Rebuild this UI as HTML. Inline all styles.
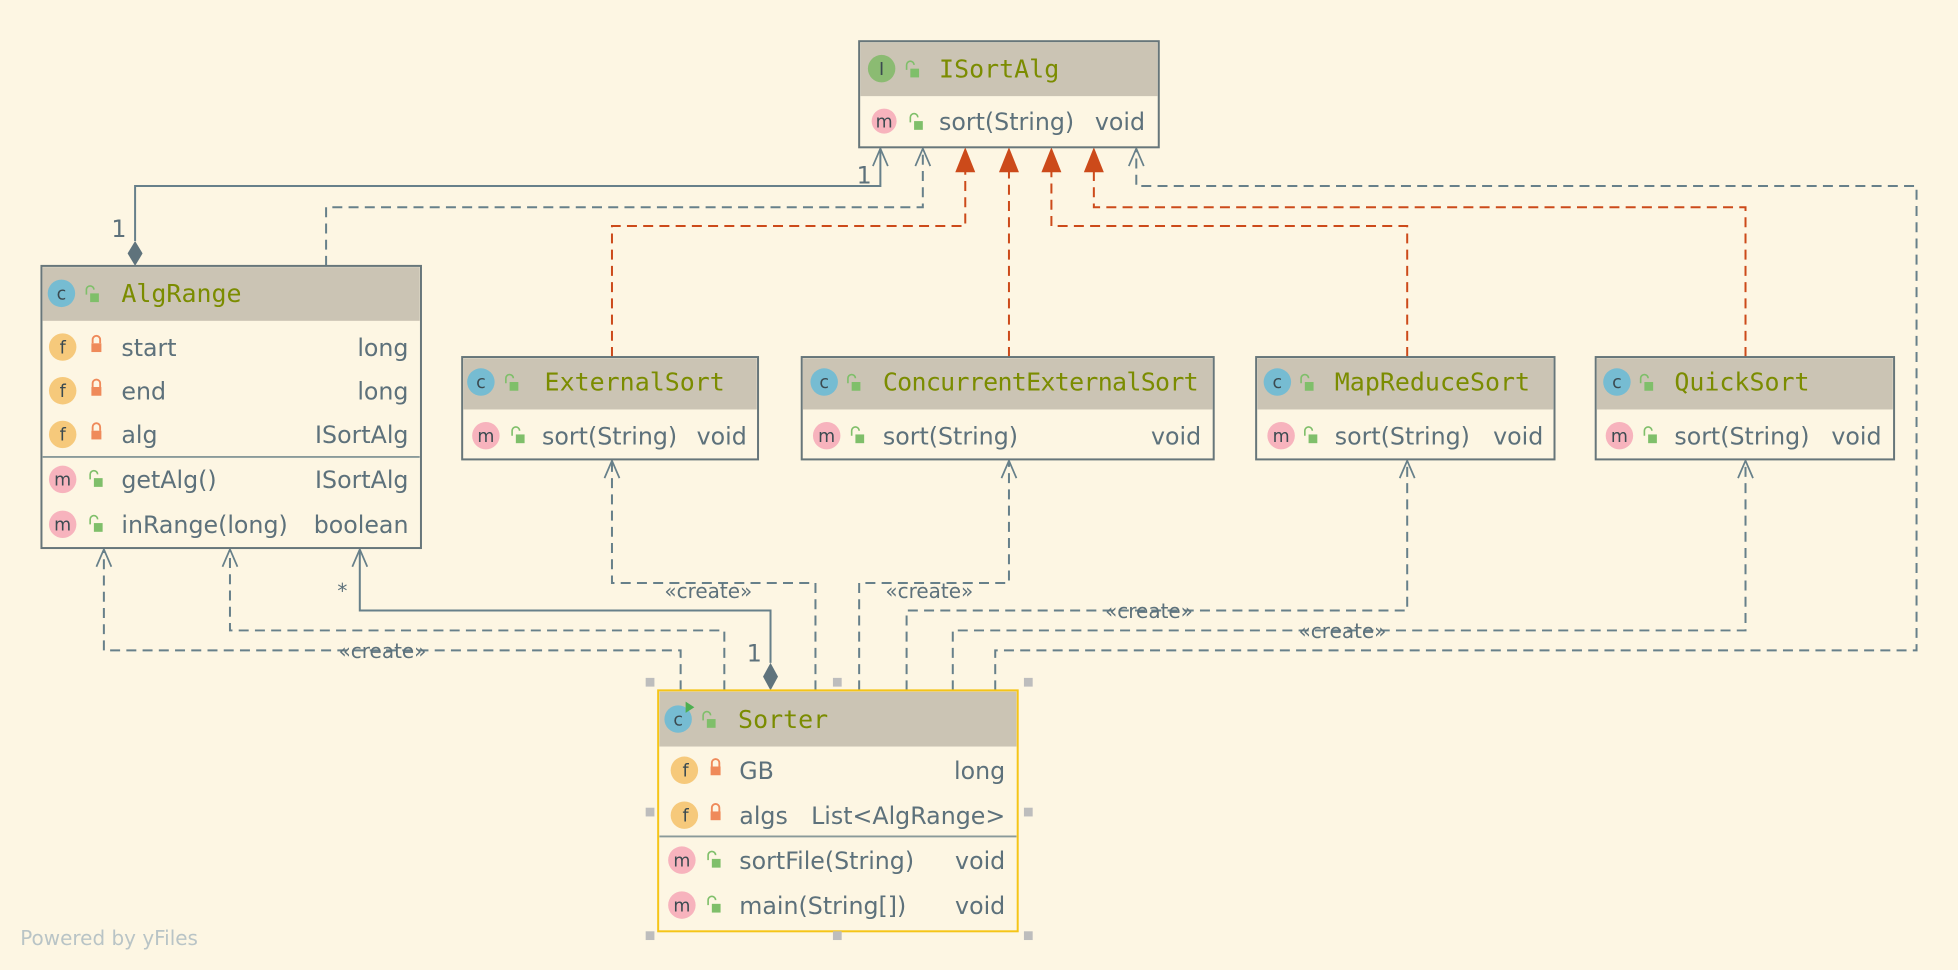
<!DOCTYPE html>
<html><head><meta charset="utf-8"><style>
html,body{margin:0;padding:0;background:#fdf6e3;}
svg{display:block}
.t{font-family:"DejaVu Sans","Liberation Sans",sans-serif;font-size:19px;fill:#5d717b}
.h{font-family:"DejaVu Sans Mono","Liberation Mono",monospace;font-size:20px;fill:#7b8c00}
.i{font-family:"DejaVu Sans","Liberation Sans",sans-serif;font-size:14px;fill:#3b4a50;text-anchor:middle}
.lbl{font-family:"DejaVu Sans","Liberation Sans",sans-serif;font-size:16px;fill:#5d717b}
.num{font-family:"DejaVu Sans","Liberation Sans",sans-serif;font-size:19px;fill:#5d717b}
.box{fill:#fdf6e3;stroke:#67767a;stroke-width:1.6}
.hd{fill:#cbc4b4}
.g{fill:none;stroke:#67808a;stroke-width:1.6;stroke-dasharray:8 5}
.gs{fill:none;stroke:#67808a;stroke-width:1.6}
.o{fill:none;stroke:#cc4a1a;stroke-width:1.6;stroke-dasharray:8 5}
.arr{fill:none;stroke:#67808a;stroke-width:1.4}
.tri{fill:#cc4a1a}
.hdl{fill:#bdbdbd}
</style></head><body>
<svg width="1958" height="970" viewBox="0 0 1568 777" xmlns="http://www.w3.org/2000/svg">
<rect width="1568" height="777" fill="#fdf6e3"/>
<defs>
<g id="lk"><path d="M-4,-1 v-4 a3,3 0 0 1 6,0" fill="none" stroke="#7fbf6a" stroke-width="1.3"/><rect x="-1" y="-2" width="7" height="7" fill="#7fbf6a"/></g>
<g id="lkr"><path d="M-3,-2 v-3 a3,3 0 0 1 6,0 v3" fill="none" stroke="#ef8a5a" stroke-width="1.5"/><rect x="-4" y="-2" width="8" height="7" fill="#ef8a5a"/></g>
<g id="ar"><path d="M-6,14 L0,0 L6,14" class="arr"/></g>
<g id="tr"><path d="M-8,20 L0,0 L8,20 Z" class="tri"/></g>
</defs>

<path class="gs" d="M108,193 V149 H705 V119"/>
<path d="M108,193 L114,203 L108,213 L102,203 Z" fill="#5f737c"/>
<use href="#ar" x="705" y="119"/>
<text class="num" x="89" y="190">1</text>
<text class="num" x="686" y="147">1</text>
<path class="g" d="M261,213 V166 H739 V121"/>
<use href="#ar" x="739" y="119"/>
<path class="o" d="M490,286 V181 H773 V136"/>
<path class="o" d="M808,286 V136"/>
<path class="o" d="M1127,286 V181 H842 V136"/>
<path class="o" d="M1398,286 V166 H876 V136"/>
<use href="#tr" x="773" y="118"/><use href="#tr" x="808" y="118"/>
<use href="#tr" x="842" y="118"/><use href="#tr" x="876" y="118"/>
<path class="g" d="M797,553 V521 H1535 V149 H910 V121"/>
<use href="#ar" x="910" y="119"/>
<path class="g" d="M653,553 V467 H490 V370"/><use href="#ar" x="490" y="369"/>
<path class="g" d="M688,553 V467 H808 V370"/><use href="#ar" x="808" y="369"/>
<path class="g" d="M726,553 V489 H1127 V370"/><use href="#ar" x="1127" y="369"/>
<path class="g" d="M763,553 V505 H1398 V370"/><use href="#ar" x="1398" y="369"/>
<path class="g" d="M545,553 V521 H83 V441"/><use href="#ar" x="83" y="440"/>
<path class="g" d="M580,553 V505 H184 V441"/><use href="#ar" x="184" y="440"/>
<path class="gs" d="M617,531 V489 H288 V441"/><use href="#ar" x="288" y="440"/>
<path d="M617,531 L623,542 L617,553 L611,542 Z" fill="#5f737c"/>
<text class="lbl" x="270" y="479">*</text>
<text class="num" x="598" y="530">1</text>
<g class="lbl">
<text x="532" y="479">«create»</text>
<text x="709" y="479">«create»</text>
<text x="885" y="495">«create»</text>
<text x="1040" y="511">«create»</text>
<text x="271" y="527">«create»</text>
</g>

<!-- ISortAlg -->
<rect class="box" x="688" y="33" width="240" height="85"/>
<rect class="hd" x="689" y="34" width="238" height="43"/>
<circle cx="706" cy="55" r="11" fill="#8bbb72"/><text class="i" x="706" y="60">I</text>
<use href="#lk" x="730" y="57"/>
<text class="h" x="752" y="62">ISortAlg</text>
<circle cx="708" cy="97" r="10" fill="#f7b3bd"/><text class="i" x="708" y="102">m</text>
<use href="#lk" x="733" y="99"/>
<text class="t" x="752" y="104">sort(String)</text><text class="t" x="917" y="104" text-anchor="end">void</text>

<!-- AlgRange -->
<rect class="box" x="33" y="213" width="304" height="226"/>
<rect class="hd" x="34" y="214" width="302" height="43"/>
<circle cx="49" cy="235" r="11" fill="#76bcd2"/><text class="i" x="49" y="240">c</text>
<use href="#lk" x="73" y="237"/>
<text class="h" x="97" y="242">AlgRange</text>
<circle cx="50" cy="278" r="11" fill="#f6c97b"/><text class="i" x="50" y="283">f</text><use href="#lkr" x="77" y="277"/>
<text class="t" x="97" y="285">start</text><text class="t" x="327" y="285" text-anchor="end">long</text>
<circle cx="50" cy="313" r="11" fill="#f6c97b"/><text class="i" x="50" y="318">f</text><use href="#lkr" x="77" y="312"/>
<text class="t" x="97" y="320">end</text><text class="t" x="327" y="320" text-anchor="end">long</text>
<circle cx="50" cy="348" r="11" fill="#f6c97b"/><text class="i" x="50" y="353">f</text><use href="#lkr" x="77" y="347"/>
<text class="t" x="97" y="355">alg</text><text class="t" x="327" y="355" text-anchor="end">ISortAlg</text>
<line x1="34" y1="366" x2="336" y2="366" stroke="#8a9a9a" stroke-width="1.5"/>
<circle cx="50" cy="384" r="11" fill="#f7b3bd"/><text class="i" x="50" y="389">m</text><use href="#lk" x="76" y="385"/>
<text class="t" x="97" y="391">getAlg()</text><text class="t" x="327" y="391" text-anchor="end">ISortAlg</text>
<circle cx="50" cy="420" r="11" fill="#f7b3bd"/><text class="i" x="50" y="425">m</text><use href="#lk" x="76" y="421"/>
<text class="t" x="97" y="427">inRange(long)</text><text class="t" x="327" y="427" text-anchor="end">boolean</text>

<!-- ExternalSort -->
<rect class="box" x="370" y="286" width="237" height="82"/>
<rect class="hd" x="371" y="287" width="235" height="41"/>
<circle cx="385" cy="306" r="11" fill="#76bcd2"/><text class="i" x="385" y="311">c</text>
<use href="#lk" x="409" y="308"/>
<text class="h" x="436" y="313">ExternalSort</text>
<circle cx="389" cy="349" r="11" fill="#f7b3bd"/><text class="i" x="389" y="354">m</text><use href="#lk" x="414" y="350"/>
<text class="t" x="434" y="356">sort(String)</text><text class="t" x="598" y="356" text-anchor="end">void</text>

<!-- ConcurrentExternalSort -->
<rect class="box" x="642" y="286" width="330" height="82"/>
<rect class="hd" x="643" y="287" width="328" height="41"/>
<circle cx="660" cy="306" r="11" fill="#76bcd2"/><text class="i" x="660" y="311">c</text>
<use href="#lk" x="683" y="308"/>
<text class="h" x="707" y="313" textLength="253">ConcurrentExternalSort</text>
<circle cx="662" cy="349" r="11" fill="#f7b3bd"/><text class="i" x="662" y="354">m</text><use href="#lk" x="686" y="350"/>
<text class="t" x="707" y="356">sort(String)</text><text class="t" x="962" y="356" text-anchor="end">void</text>

<!-- MapReduceSort -->
<rect class="box" x="1006" y="286" width="239" height="82"/>
<rect class="hd" x="1007" y="287" width="237" height="41"/>
<circle cx="1023" cy="306" r="11" fill="#76bcd2"/><text class="i" x="1023" y="311">c</text>
<use href="#lk" x="1046" y="308"/>
<text class="h" x="1069" y="313">MapReduceSort</text>
<circle cx="1026" cy="349" r="11" fill="#f7b3bd"/><text class="i" x="1026" y="354">m</text><use href="#lk" x="1049" y="350"/>
<text class="t" x="1069" y="356">sort(String)</text><text class="t" x="1236" y="356" text-anchor="end">void</text>

<!-- QuickSort -->
<rect class="box" x="1278" y="286" width="239" height="82"/>
<rect class="hd" x="1279" y="287" width="237" height="41"/>
<circle cx="1295" cy="306" r="11" fill="#76bcd2"/><text class="i" x="1295" y="311">c</text>
<use href="#lk" x="1318" y="308"/>
<text class="h" x="1341" y="313">QuickSort</text>
<circle cx="1297" cy="349" r="11" fill="#f7b3bd"/><text class="i" x="1297" y="354">m</text><use href="#lk" x="1321" y="350"/>
<text class="t" x="1341" y="356">sort(String)</text><text class="t" x="1507" y="356" text-anchor="end">void</text>

<!-- Sorter -->
<rect x="527" y="553" width="288" height="193" fill="#fdf6e3" stroke="#f5c518" stroke-width="1.6"/>
<rect class="hd" x="528" y="554" width="286" height="44"/>
<circle cx="543" cy="576" r="11" fill="#76bcd2"/><text class="i" x="543" y="581">c</text>
<path d="M549,562 L556,566.5 L549,571 Z" fill="#4caf50"/>
<use href="#lk" x="567" y="578"/>
<text class="h" x="591" y="583">Sorter</text>
<circle cx="548" cy="617" r="11" fill="#f6c97b"/><text class="i" x="549" y="622">f</text><use href="#lkr" x="573" y="616"/>
<text class="t" x="592" y="624">GB</text><text class="t" x="805" y="624" text-anchor="end">long</text>
<circle cx="548" cy="653" r="11" fill="#f6c97b"/><text class="i" x="549" y="658">f</text><use href="#lkr" x="573" y="652"/>
<text class="t" x="592" y="660">algs</text><text class="t" x="805" y="660" text-anchor="end">List&lt;AlgRange&gt;</text>
<line x1="528" y1="670" x2="814" y2="670" stroke="#8a9a9a" stroke-width="1.5"/>
<circle cx="546" cy="689" r="11" fill="#f7b3bd"/><text class="i" x="546" y="694">m</text><use href="#lk" x="571" y="690"/>
<text class="t" x="592" y="696">sortFile(String)</text><text class="t" x="805" y="696" text-anchor="end">void</text>
<circle cx="546" cy="725" r="11" fill="#f7b3bd"/><text class="i" x="546" y="730">m</text><use href="#lk" x="571" y="726"/>
<text class="t" x="592" y="732">main(String[])</text><text class="t" x="805" y="732" text-anchor="end">void</text>
<g class="hdl">
<rect x="517" y="543" width="7" height="7"/><rect x="667" y="543" width="7" height="7"/><rect x="820" y="543" width="7" height="7"/>
<rect x="517" y="647" width="7" height="7"/><rect x="820" y="647" width="7" height="7"/>
<rect x="517" y="746" width="7" height="7"/><rect x="667" y="746" width="7" height="7"/><rect x="820" y="746" width="7" height="7"/>
</g>

<text x="16" y="757" font-family="DejaVu Sans, Liberation Sans, sans-serif" font-size="16" fill="#b9c4c6">Powered by yFiles</text>
</svg>
</body></html>
